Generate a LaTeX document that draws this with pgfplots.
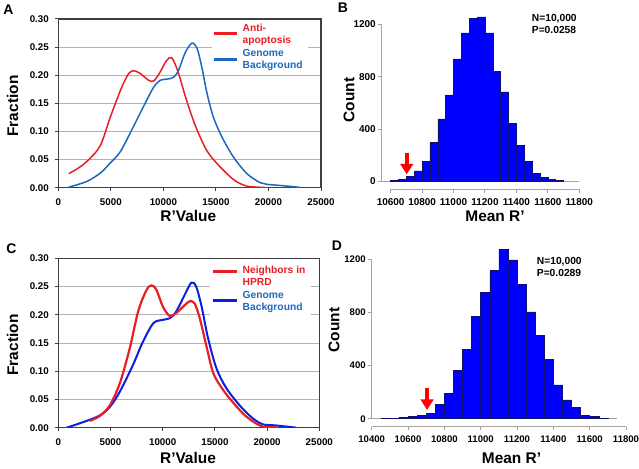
\documentclass[border=0pt]{standalone}
\usepackage{fontspec}
\setmainfont{Liberation Sans}
\usepackage{pgfplots}
\pgfplotsset{compat=1.18}
\usetikzlibrary{arrows.meta}

\definecolor{cred}{RGB}{232,30,36}
\definecolor{csteel}{RGB}{28,104,190}
\definecolor{cblue}{RGB}{10,30,225}
\definecolor{barfill}{RGB}{0,0,255}
\definecolor{baredge}{RGB}{15,15,110}
\definecolor{axgray}{RGB}{165,165,165}

\pgfplotsset{
  curvepanel/.style={
    scale only axis, anchor=south west,
    xmin=0, xmax=25000, ymin=0, ymax=0.30,
    xtick={0,5000,10000,15000,20000,25000},
    ytick={0,0.05,0.1,0.15,0.2,0.25,0.3},
    ymajorgrids, grid style={line width=0.8bp, black!30},
    axis line style={line width=1.1bp, black!75},
    tick align=outside, xtick pos=left, ytick pos=left,
    major tick length=3bp, tick style={black!75, line width=1bp},
    scaled ticks=false,
    ticklabel style={font=\fontsize{9.8}{10}\bfseries},
    /pgf/number format/assume math mode=true,
    xticklabel style={/pgf/number format/.cd, set thousands separator={}},
    yticklabel style={/pgf/number format/.cd, fixed, fixed zerofill, precision=2},
    xticklabel shift=4.5bp, yticklabel shift=3bp,
  },
  histpanel/.style={
    scale only axis, anchor=south west, clip=false,
    ymin=-60, ymax=1200, ytick={0,400,800,1200},
    axis x line*=bottom, axis y line*=left,
    axis line style={draw=none},
    tick align=outside, major tick length=3.5bp,
    tick style={axgray, line width=1bp},
    scaled ticks=false,
    ticklabel style={font=\fontsize{10}{11}\bfseries},
    /pgf/number format/assume math mode=true,
    /pgf/number format/set thousands separator={},
    xticklabel shift=2.5bp, yticklabel shift=-1bp,
  },
}

\begin{document}
\begin{tikzpicture}
\path[use as bounding box] (0,0) rectangle (639bp,469bp);

% ---- A ----
\begin{axis}[curvepanel, at={(58.3bp,281.3bp)}, width=262.7bp, height=168.7bp]
\addplot[cred, line width=1.5bp, smooth, tension=0.5] coordinates {
 (1000,0.025) (2000,0.036) (2900,0.050) (4000,0.075) (5000,0.128) (6000,0.177)
 (6700,0.203) (7200,0.208) (7800,0.203) (8600,0.191) (9100,0.190) (9700,0.206)
 (10300,0.226) (10800,0.231) (11400,0.206) (12000,0.168) (12600,0.133) (13200,0.103)
 (14100,0.067) (15100,0.043) (16700,0.014) (17900,0.003) (19000,0.001) (20000,0.0)};
\addplot[csteel, line width=1.5bp, smooth, tension=0.5] coordinates {
 (1000,0.001) (2700,0.011) (4000,0.026) (4900,0.043) (5900,0.064) (7000,0.103)
 (8100,0.144) (9050,0.178) (9700,0.191) (10300,0.193) (10950,0.196) (11450,0.209)
 (12050,0.239) (12700,0.257) (13200,0.248) (13650,0.215) (14150,0.168) (14750,0.126)
 (15550,0.091) (16650,0.055) (17950,0.025) (19200,0.009) (19850,0.006) (21100,0.004)
 (23000,0.0006)};
\end{axis}
\fill[white] (212bp,398bp) rectangle (308bp,446bp);
\draw[cred, line width=2.5bp] (214bp,435.7bp) -- (237bp,435.7bp);
\draw[csteel, line width=2.5bp] (214bp,409.7bp) -- (237bp,409.7bp);
\node[anchor=north west, inner sep=0pt, align=left, text=cred,
      font=\fontsize{10.3}{11.7}\bfseries] at (242.5bp,445bp) {Anti-\\apoptosis};
\node[anchor=north west, inner sep=0pt, align=left, text=csteel,
      font=\fontsize{10.3}{11.7}\bfseries] at (242.5bp,420bp) {Genome\\Background};
\node[rotate=90, font=\fontsize{15.5}{18}\bfseries] at (12.5bp,363bp) {Fraction};
\node[font=\fontsize{15.5}{18}\bfseries] at (188.3bp,253bp) {R’Value};
\node[font=\fontsize{14}{16}\bfseries] at (8.5bp,459.5bp) {A};

% ---- B ----
\begin{axis}[histpanel, at={(381.7bp,279.6bp)}, width=197.6bp, height=165.1bp,
  xmin=10543, xmax=11800, xtick={10600,10800,11000,11200,11400,11600,11800}]
\draw[axgray, line width=1.1bp] (axis cs:10543,0) -- (axis cs:11800,0);
\draw[axgray, line width=1.1bp] (axis cs:10543,0) -- (axis cs:10543,1200);
\draw[axgray, line width=1.1bp] (axis cs:10600,-60) -- (axis cs:11800,-60);
\addplot[ybar interval, fill=barfill, draw=baredge, line width=0.5bp] coordinates {
 (10600,11) (10650,19) (10700,37) (10750,82) (10800,151) (10850,299) (10900,479)
 (10950,662) (11000,937) (11050,1135) (11100,1247) (11150,1257) (11200,1135)
 (11250,843) (11300,685) (11350,444) (11400,276) (11450,156) (11500,65)
 (11550,29) (11600,17) (11650,9) (11700,0)};
\draw[red, line width=4bp, -{Triangle[width=12.5bp,length=10.5bp]}]
  (axis cs:10702,220) -- (axis cs:10702,55);
\end{axis}
\node[anchor=north west, inner sep=0pt, align=left,
      font=\fontsize{10.3}{11.7}\bfseries] at (531.7bp,455bp) {N=10,000\\P=0.0258};
\node[rotate=90, font=\fontsize{15.5}{18}\bfseries] at (349bp,369bp) {Count};
\node[font=\fontsize{15.5}{18}\bfseries] at (495bp,253bp) {Mean R’};
\node[font=\fontsize{14}{16}\bfseries] at (343bp,461bp) {B};

% ---- C ----
\begin{axis}[curvepanel, at={(58.3bp,41.3bp)}, width=261bp, height=169.4bp]
\addplot[cblue, line width=2bp, smooth, tension=0.5] coordinates {
 (800,0.0) (2700,0.012) (4000,0.022) (4950,0.037) (5900,0.064) (7150,0.111)
 (8100,0.152) (9100,0.185) (10000,0.191) (10700,0.194) (11300,0.206) (12100,0.235)
 (12750,0.257) (13200,0.250) (13700,0.217) (14350,0.158) (15150,0.105) (16100,0.070)
 (17350,0.040) (18600,0.017) (19600,0.006) (20850,0.004) (22800,0.0)};
\addplot[cred, line width=2.2bp, smooth, tension=0.5] coordinates {
 (3000,0.012) (4000,0.021) (4950,0.040) (5900,0.079) (6850,0.141) (7650,0.206)
 (8450,0.244) (8950,0.252) (9400,0.244) (10030,0.214) (10670,0.198) (11300,0.203)
 (12100,0.217) (12600,0.224) (13060,0.220) (13550,0.194) (14170,0.146) (14800,0.099)
 (15450,0.076) (16400,0.052) (17700,0.025) (18650,0.011) (19600,0.002) (20900,0.001)};
\end{axis}
\fill[white] (210bp,152bp) rectangle (311bp,207bp);
\draw[cred, line width=3.5bp] (212.7bp,197.3bp) -- (237.3bp,197.3bp);
\draw[cblue, line width=2.5bp] (212.7bp,168.3bp) -- (237.3bp,168.3bp);
\node[anchor=north west, inner sep=0pt, align=left, text=cred,
      font=\fontsize{10.3}{12.3}\bfseries] at (242.5bp,203bp) {Neighbors in\\HPRD};
\node[anchor=north west, inner sep=0pt, align=left, text=csteel,
      font=\fontsize{10.3}{12.3}\bfseries] at (242.5bp,178bp) {Genome\\Background};
\node[rotate=90, font=\fontsize{15.5}{18}\bfseries] at (12.5bp,124bp) {Fraction};
\node[font=\fontsize{15.5}{18}\bfseries] at (188bp,11bp) {R’Value};
\node[font=\fontsize{14}{16}\bfseries] at (11.5bp,220bp) {C};

% ---- D ----
\begin{axis}[histpanel, at={(371.7bp,42.3bp)}, width=254.3bp, height=167.4bp,
  xmin=10400, xmax=11800, ticklabel style={font=\fontsize{9.6}{11}\bfseries},
  xtick={10400,10600,10800,11000,11200,11400,11600,11800}]
\draw[axgray, line width=1.1bp] (axis cs:10400,0) -- (axis cs:11750,0);
\draw[axgray, line width=1.1bp] (axis cs:10400,0) -- (axis cs:10400,1200);
\draw[axgray, line width=1.1bp] (axis cs:10400,-60) -- (axis cs:11800,-60);
\addplot[ybar interval, fill=barfill, draw=baredge, line width=0.5bp] coordinates {
 (10450,3) (10500,5) (10550,10) (10600,15) (10650,25) (10700,40) (10750,108)
 (10800,191) (10850,362) (10900,523) (10950,770) (11000,953) (11050,1114)
 (11100,1275) (11150,1195) (11200,1011) (11250,805) (11300,629) (11350,448)
 (11400,254) (11450,141) (11500,83) (11550,26) (11600,15) (11650,5) (11700,0)};
\draw[red, line width=4bp, -{Triangle[width=12.5bp,length=10.5bp]}]
  (axis cs:10705,232) -- (axis cs:10705,66);
\end{axis}
\node[anchor=north west, inner sep=0pt, align=left,
      font=\fontsize{10.3}{11.7}\bfseries] at (536.7bp,212bp) {N=10,000\\P=0.0289};
\node[rotate=90, font=\fontsize{15.5}{18}\bfseries] at (334bp,139bp) {Count};
\node[font=\fontsize{15.5}{18}\bfseries] at (511.5bp,11bp) {Mean R’};
\node[font=\fontsize{14}{16}\bfseries] at (337bp,223bp) {D};
\end{tikzpicture}
\end{document}
